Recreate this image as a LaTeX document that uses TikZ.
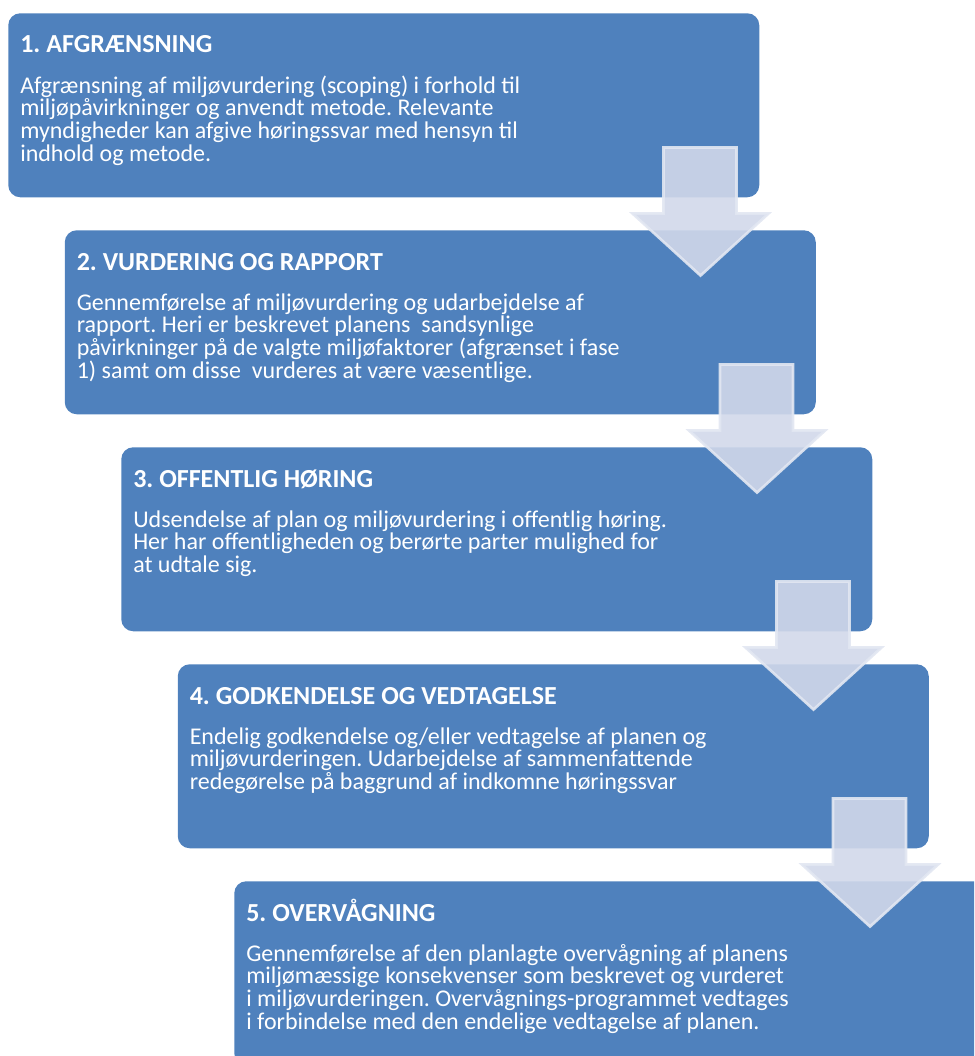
\documentclass[tikz,border=0pt]{standalone}
\usepackage{fontspec}
\setmainfont{Carlito}
\usetikzlibrary{calc}
\definecolor{boxblue}{RGB}{79,129,189}
\definecolor{arrowfill}{RGB}{209,216,234}
\definecolor{arrowline}{RGB}{226,231,242}
\newcommand{\firstline}{\rule{0pt}{15pt}}
\newcommand{\tightlines}{\setlength{\lineskiplimit}{-100pt}}
\frenchspacing
\begin{document}
\frenchspacing
\begin{tikzpicture}[x=0.75pt,y=-0.75pt,
  box/.style={fill=boxblue, rounded corners=9pt, minimum width=563.25pt, minimum height=138pt, anchor=north west, inner sep=0pt},
  titletext/.style={anchor=base west, inner sep=0pt, text=white, font=\fontsize{19.5}{23}\selectfont\bfseries},
  bodytext/.style={anchor=north west, inner sep=0pt, text=white, align=left, font=\fontsize{18}{17}\selectfont\tightlines},
  blockarrow/.style={fill=arrowfill, fill opacity=0.9, draw=arrowline, draw opacity=0.9, line width=2pt, line join=miter}]
\path[use as bounding box] (0,0) rectangle (974,1056);
\clip (0,0) rectangle (974,1056);
% boxes
\node[box] (b1) at (8,13) {};
\node[box] (b2) at (64.5,230) {};
\node[box] (b3) at (121,447) {};
\node[box] (b4) at (177.5,664) {};
\node[box] (b5) at (234,881) {};
% titles
\node[titletext] (t1) at ($(b1.north west)+(12,40)$) {1. AFGRÆNSNING};
\node[titletext] (t2) at ($(b2.north west)+(12,40)$) {2. VURDERING OG RAPPORT};
\node[titletext] (t3) at ($(b3.north west)+(12,40)$) {3. OFFENTLIG HØRING};
\node[titletext] (t4) at ($(b4.north west)+(12,40)$) {4. GODKENDELSE OG VEDTAGELSE};
\node[titletext] (t5) at ($(b5.north west)+(12,40)$) {5. OVERVÅGNING};
% bodies (first baseline 80px below box top)
\node[bodytext] (d1) at ($(b1.north west)+(12,60)$) {\firstline Afgrænsning af miljøvurdering (scoping) i forhold til\\miljøpåvirkninger og anvendt metode. Relevante\\myndigheder kan afgive høringssvar med hensyn til\\indhold og metode.};
\node[bodytext] (d2) at ($(b2.north west)+(12,60)$) {\firstline Gennemførelse af miljøvurdering og udarbejdelse af\\rapport. Heri er beskrevet planens\ \ sandsynlige\\påvirkninger på de valgte miljøfaktorer (afgrænset i fase\\1) samt om disse\ \ vurderes at være væsentlige.};
\node[bodytext] (d3) at ($(b3.north west)+(12,60)$) {\firstline Udsendelse af plan og miljøvurdering i offentlig høring.\\Her har offentligheden og berørte parter mulighed for\\at udtale sig.};
\node[bodytext] (d4) at ($(b4.north west)+(12,60)$) {\firstline Endelig godkendelse og/eller vedtagelse af planen og\\miljøvurderingen. Udarbejdelse af sammenfattende\\redegørelse på baggrund af indkomne høringssvar};
\node[bodytext] (d5) at ($(b5.north west)+(12,60)$) {\firstline Gennemførelse af den planlagte overvågning af planens\\miljømæssige konsekvenser som beskrevet og vurderet\\i miljøvurderingen. Overvågnings-programmet vedtages\\i forbindelse med den endelige vedtagelse af planen.};
% block arrows
\foreach \i in {1,2,3,4}{
  \draw[blockarrow, shift={(b\i.south east)}] (-96,-50) -- (-23,-50) -- (-23,16) -- (9,16) -- (-59,78) -- (-127,16) -- (-96,16) -- cycle;
}
\end{tikzpicture}
\end{document}
